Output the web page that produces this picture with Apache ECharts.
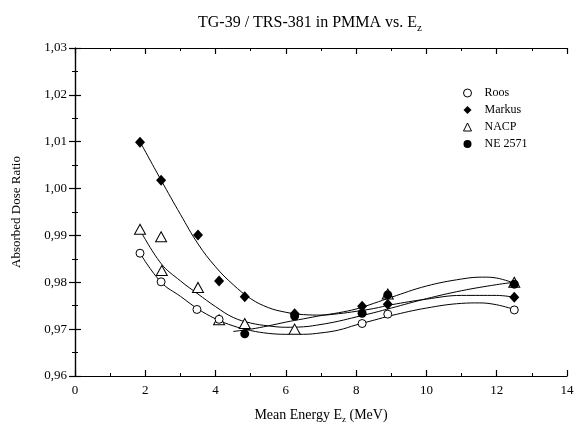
<!DOCTYPE html>
<html><head><meta charset="utf-8">
<script src="https://cdn.jsdelivr.net/npm/echarts@6/dist/echarts.min.js"></script>
<style>html,body{margin:0;padding:0;background:#fff}#c{width:582px;height:429px}</style>
</head><body><div id="c"></div>
<script>
// Measured points [energy MeV, ratio]
const roosPts = [[1.85,0.9862],[2.45,0.9801],[3.47,0.9742],[4.1,0.9721],[8.17,0.9712],[8.9,0.9732],[12.5,0.9741]];
const markusPts = [[1.85,1.0099],[2.45,1.0018],[3.5,0.9901],[4.1,0.9803],[4.83,0.9769],[6.25,0.9733],[8.17,0.9749],[8.9,0.9753],[12.5,0.9768]];
const nacpPts = [[1.85,0.9913],[2.45,0.9897],[2.47,0.9825],[3.5,0.9789],[4.1,0.9720],[4.83,0.9712],[6.25,0.9700],[8.9,0.9775],[12.5,0.9800]];
const nePts = [[4.83,0.9690],[6.25,0.9728],[8.17,0.9734],[8.9,0.9773],[12.5,0.9796]];

// Fit curves
const roosFit = [[1.85,0.9862],[2.45,0.9800],[3.0,0.9770],[3.5,0.9743],[4.0,0.9722],[4.5,0.9707],[5.0,0.9697],[5.5,0.9691],[6.0,0.9689],[6.5,0.9689],[7.0,0.9692],[7.5,0.9698],[8.0,0.9709],[8.5,0.9719],[9.0,0.9729],[10.0,0.9745],[11.0,0.9755],[11.5,0.9756],[12.0,0.9752],[12.5,0.9742]];
const markusFit = [[1.85,1.0100],[2.45,1.0018],[3.0,0.9945],[3.5,0.9882],[4.0,0.9833],[4.5,0.9795],[5.0,0.9765],[5.5,0.9746],[6.0,0.9736],[6.5,0.9731],[7.0,0.9730],[7.5,0.9733],[8.0,0.9738],[8.5,0.9744],[9.0,0.9752],[10.0,0.9764],[11.0,0.9772],[12.0,0.9772],[12.5,0.9768]];
const nacpFit = [[1.85,0.9912],[2.45,0.9840],[3.0,0.9803],[3.5,0.9775],[4.0,0.9748],[4.5,0.9725],[5.0,0.9713],[5.5,0.9707],[6.0,0.9704],[6.5,0.9705],[7.0,0.9710],[7.5,0.9717],[8.0,0.9726],[8.5,0.9735],[9.0,0.9745],[10.0,0.9765],[11.0,0.9782],[12.0,0.9795],[12.5,0.9800]];
const neFit = [[4.5,0.9695],[5.0,0.9700],[5.5,0.9707],[6.0,0.9715],[6.5,0.9722],[7.0,0.9729],[7.5,0.9735],[8.0,0.9743],[8.5,0.9755],[9.0,0.9768],[10.0,0.9792],[11.0,0.9807],[11.6,0.9811],[12.0,0.9809],[12.5,0.9798]];

const seriesNames = ['Roos','Markus','NACP','NE 2571'];
const xTicks = {min:0, max:14, interval:2};
const yTicks = {min:0.96, max:1.03, interval:0.01};

const FONT = 'Liberation Serif';
const chart = echarts.init(document.getElementById('c'), null, {renderer:'canvas'});

function fitLine(data){
  return {type:'line', data:data, smooth:0.4, showSymbol:false, symbol:'none', silent:true,
    lineStyle:{color:'#000', width:1}, z:2};
}
function axisCommon(show){
  return {
    axisLine:{show:true, lineStyle:{color:'#000', width:1.2}},
    axisTick:{show:true, inside:true, length:6, lineStyle:{color:'#000', width:1.2}},
    minorTick:{show:true, splitNumber:2, length:3, lineStyle:{color:'#000', width:1}},
    splitLine:{show:false},
    axisLabel:{show:show, color:'#000', fontFamily:FONT, fontSize:13}
  };
}
const fmtY = v => v.toFixed(2).replace('.', ',');

chart.setOption({
  animation:false,
  backgroundColor:'#fff',
  title:{
    text:'{a|TG-39 / TRS-381 in PMMA vs. E}{b|z}',
    left:305, top:6, textAlign:'center',
    textStyle:{fontWeight:'normal', rich:{
      a:{fontFamily:FONT, fontSize:16, fontWeight:'normal', color:'#000'},
      b:{fontFamily:FONT, fontSize:11, fontWeight:'normal', color:'#000', padding:[12,0,0,0]}
    }}
  },
  legend:{
    orient:'vertical', left:458, top:82, itemGap:5, itemWidth:8, itemHeight:8,
    data:seriesNames,
    itemStyle:{borderWidth:1},
    textStyle:{fontFamily:FONT, fontSize:12, color:'#000', padding:[0,0,0,8]}
  },
  grid:{left:75, right:15, top:48, bottom:53},
  xAxis:[
    Object.assign({type:'value', position:'bottom', min:xTicks.min, max:xTicks.max, interval:xTicks.interval,
      name:'{a|Mean Energy E}{b|z}{a| (MeV)}', nameLocation:'middle', nameGap:30,
      nameTextStyle:{rich:{
        a:{fontFamily:FONT, fontSize:14, color:'#000'},
        b:{fontFamily:FONT, fontSize:9, color:'#000', padding:[9,0,0,0]}
      }}
    }, axisCommon(true), {axisLabel:{show:true, color:'#000', fontFamily:FONT, fontSize:13, margin:8}}),
    Object.assign({type:'value', position:'top', min:xTicks.min, max:xTicks.max, interval:xTicks.interval}, axisCommon(false))
  ],
  yAxis:[
    Object.assign({type:'value', position:'left', min:yTicks.min, max:yTicks.max, interval:yTicks.interval,
      name:'Absorbed Dose Ratio', nameLocation:'middle', nameGap:52, nameRotate:90,
      nameTextStyle:{fontFamily:FONT, fontSize:13, color:'#000'}
    }, axisCommon(true), {axisLabel:{show:true, color:'#000', fontFamily:FONT, fontSize:13, margin:8, formatter:fmtY}}),
    Object.assign({type:'value', position:'right', min:yTicks.min, max:yTicks.max, interval:yTicks.interval}, axisCommon(false))
  ],
  series:[
    fitLine(roosFit), fitLine(markusFit), fitLine(nacpFit), fitLine(neFit),
    {name:'Roos', type:'scatter', data:roosPts, symbol:'circle', symbolSize:8, z:5,
      itemStyle:{color:'#fff', borderColor:'#000', borderWidth:1, opacity:1}},
    {name:'Markus', type:'scatter', data:markusPts, symbol:'diamond', symbolSize:[10,11], z:5,
      itemStyle:{color:'#000', opacity:1}},
    {name:'NACP', type:'scatter', data:nacpPts, symbol:'triangle', symbolSize:[11,10], z:4,
      itemStyle:{color:'#fff', borderColor:'#000', borderWidth:1, opacity:1}},
    {name:'NE 2571', type:'scatter', data:nePts, symbol:'circle', symbolSize:9, z:5,
      itemStyle:{color:'#000', opacity:1}}
  ]
});
</script></body></html>
